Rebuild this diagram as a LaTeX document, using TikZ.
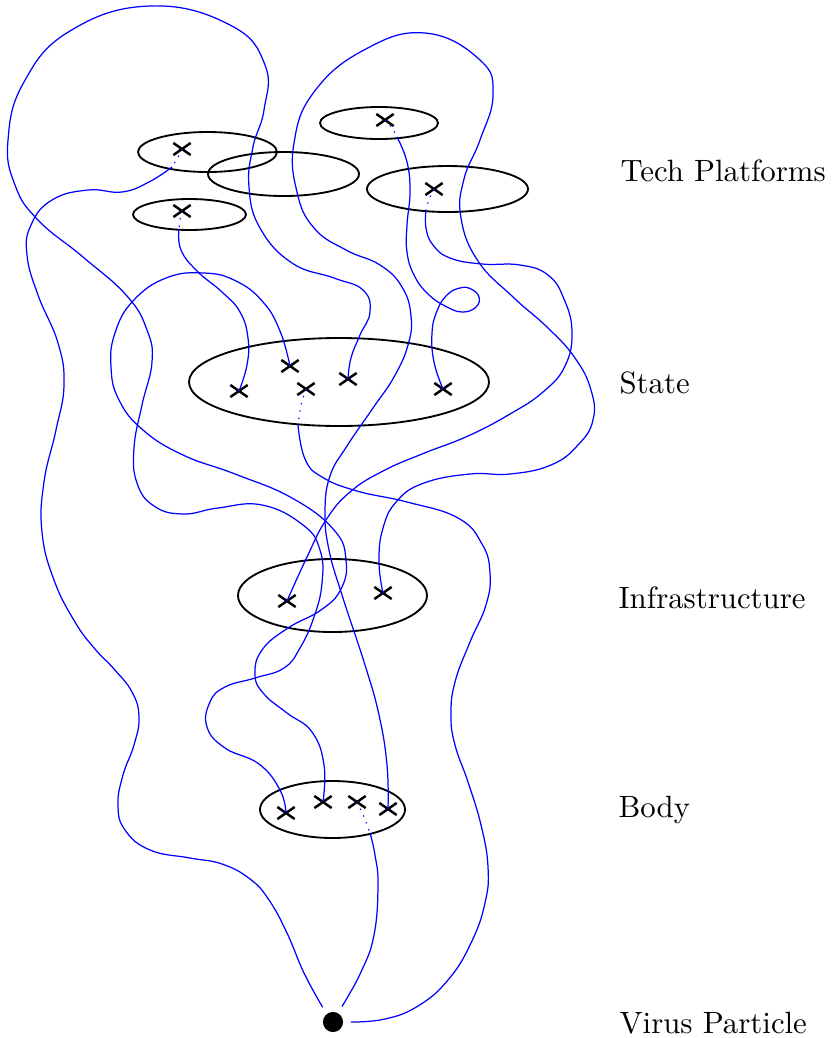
\documentclass[tikz,border=0pt]{standalone}
\usetikzlibrary{shapes.misc}
\begin{document}
\begin{tikzpicture}[x=0.01141cm,y=-0.01141cm,inner sep=0mm,
  xmark/.style={cross out,draw,thick,minimum width=1.7mm,minimum height=1.1mm},
  strand/.style={blue,smooth,tension=0.75},
  hidden/.style={blue,dotted,smooth}]

\useasboundingbox (0,0) rectangle (838,1038);

% layers
\draw[semithick] (207.5,152) ellipse [x radius=69.5,y radius=20];
\draw[semithick] (283.5,174) ellipse [x radius=75.5,y radius=22];
\draw[semithick] (189.5,214.5) ellipse [x radius=56.5,y radius=15.5];
\draw[semithick] (379,123) ellipse [x radius=59,y radius=16];
\draw[semithick] (447.5,189) ellipse [x radius=80.5,y radius=23];
\draw[semithick] (339,382) ellipse [x radius=150,y radius=44];
\draw[semithick] (332.5,595.5) ellipse [x radius=94.5,y radius=36.5];
\draw[semithick] (332.5,809.5) ellipse [x radius=72.5,y radius=28.5];

\node[anchor=base west] (tech) at (620,181) {Tech Platforms};
\node[anchor=base west] (state) at (619,393) {State};
\node[anchor=base west] (infra) at (618,608) {Infrastructure};
\node[anchor=base west] (body) at (618,817) {Body};
\node[anchor=base west] (virus) at (619,1033) {Virus Particle};

\node[circle,fill,minimum size=2.3mm,outer sep=0.9mm] (v) at (333,1022) {};

\node[xmark] (tA) at (182,149) {};
\node[xmark] (tB) at (385,120) {};
\node[xmark] (tC) at (182,211) {};
\node[xmark] (tD) at (434,189) {};

\node[xmark] (s1) at (239,391) {};
\node[xmark] (s2) at (290,366) {};
\node[xmark] (s3) at (306,389) {};
\node[xmark] (s4) at (348,379) {};
\node[xmark] (s5) at (443,389) {};

\node[xmark] (i1) at (287,601) {};
\node[xmark] (i2) at (383,593) {};

\node[xmark] (b1) at (286,813) {};
\node[xmark] (b2) at (323,802) {};
\node[xmark] (b3) at (357,802) {};
\node[xmark] (b4) at (388,809) {};

% where the strands come out from under a sheet
\coordinate (dA) at (172,167);
\coordinate (dB) at (397,137);
\coordinate (dC) at (179,229);
\coordinate (dD) at (426,210);
\coordinate (dS) at (298,425);
\coordinate (dV) at (370,833);

\draw[hidden] plot coordinates {(tA.center) (177,159) (dA)};
\draw[hidden] plot coordinates {(tB.center) (392,128) (dB)};
\draw[hidden] plot coordinates {(tC.center) (180,220) (dC)};
\draw[hidden] plot coordinates {(tD.center) (429,199) (dD)};
\draw[hidden] plot coordinates {(s3.center) (301,405) (dS)};
\draw[hidden] plot coordinates {(b3.center) (364,817) (dV)};

% virus to tech platform
\draw[strand] plot coordinates {(v.125) (304,973) (287,933) (269,900) (250,879)
  (222,864) (190,858) (150,850) (125,830) (118,805) (123,775) (134,745) (139,717)
  (132,692) (114,669) (95,649) (75,622) (54,580) (42,532) (44,482) (56,430) (64,385)
  (58,343) (38,295) (27,255) (31,225) (52,200) (88,190) (122,192) (149,182) (dA)};
% virus to body
\draw[strand] plot coordinates {(v.60) (361,972) (374,935) (378,885) (375,855) (dV)};
% virus to state
\draw[strand] plot coordinates {(v.east) (385,1019) (418,1006) (448,980) (471,943)
  (485,903) (488,867) (481,825) (468,782) (455,745) (451,715) (455,682) (470,642)
  (486,605) (490,573) (482,544) (458,518) (407,502) (357,491) (322,477) (305,459)
  (dS)};

% body to state, round the top
\draw[strand] plot coordinates {(b1.center) (280,790) (259,764) (225,748) (207,727)
  (210,702) (225,687) (255,678) (284,668) (300,648) (314,617) (322,583) (320,550)
  (303,525) (262,505) (218,508) (183,514) (154,506) (137,483) (134,448) (142,405)
  (152,362) (147,330) (127,296) (83,257) (38,220) (15,185) (8,140) (24,82) (70,31)
  (150,6) (230,25) (265,65) (264,110) (253,147) (249,187) (260,228) (292,263)
  (334,278) (363,290) (370,312) (360,335) (351,358) (s4.center)};
% body to state, round the left
\draw[strand] plot coordinates {(b2.center) (324,765) (312,732) (287,713) (264,694)
  (255,675) (262,650) (288,628) (321,610) (341,589) (346,560) (334,530) (292,498)
  (235,474) (183,455) (143,430) (119,400) (111,367) (115,333) (133,301) (166,278)
  (204,273) (236,281) (263,302) (280,331) (s2.center)};
% body to infrastructure
\draw[strand] plot coordinates {(b4.center) (387,765) (379,715) (365,665) (342,595)
  (329,550) (325,512) (330,476) (347,446) (373,408) (394,377) (408,345) (411,316)
  (402,287) (380,265) (346,250) (314,228) (297,192) (294,143) (314,92) (364,50)
  (425,33) (480,60) (493,95) (480,140) (464,179) (461,218) (478,261) (513,297)
  (548,328) (575,358) (591,390) (593,420) (578,445) (551,465) (510,474) (470,474)
  (424,483) (397,501) (383,528) (379,562) (i2.center)};

% tech platforms to state
\draw[strand] plot coordinates {(dC) (181,250) (197,271) (222,292) (240,312)
  (248,338) (247,365) (s1.center)};
\draw[strand] plot coordinates {(dB) (407,162) (410,192) (407,225) (407,252)
  (414,275) (428,294) (447,307) (463,312) (476,307) (479,297) (471,289) (460,288)
  (447,295) (437,311) (432,333) (434,362) (s5.center)};
% tech platform to infrastructure
\draw[strand] plot coordinates {(dD) (426,228) (433,245) (450,258) (482,264)
  (520,265) (548,275) (564,299) (572,332) (565,366) (543,392) (510,414) (468,436)
  (422,454) (383,471) (350,492) (326,520) (307,557) (i1.center)};

\end{tikzpicture}
\end{document}
